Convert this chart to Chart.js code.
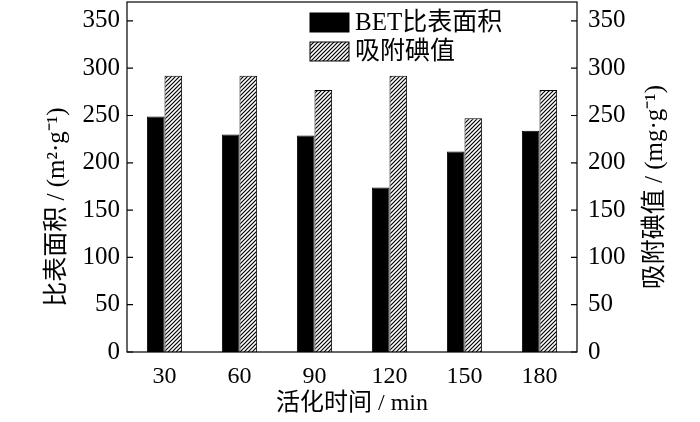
<!DOCTYPE html>
<html>
<head>
<meta charset="utf-8">
<script src="https://cdn.jsdelivr.net/npm/chart.js@4.4.1/dist/chart.umd.min.js"></script>
<style>
  body { margin: 0; background: #fff; }
  #wrap { width: 700px; height: 422px; }
</style>
</head>
<body>
<div id="wrap"><canvas id="myChart"></canvas></div>
<script>
// 数据
const categories = ["30", "60", "90", "120", "150", "180"]
const betArea = [249, 230, 229, 174, 212, 234]
const iodineValue = [292, 292, 277, 292, 247, 277]
const yTicks = [0, 50, 100, 150, 200, 250, 300, 350]

const FONT = '"Liberation Serif", "Times New Roman", "Noto Sans CJK SC", serif'

// 斜线填充
function hatch() {
    const c = document.createElement("canvas")
    c.width = 4
    c.height = 4
    const g = c.getContext("2d")
    g.fillStyle = "#fff"
    g.fillRect(0, 0, 4, 4)
    g.strokeStyle = "#000"
    g.lineWidth = 1.2
    g.beginPath()
    g.moveTo(-1, 5); g.lineTo(5, -1)
    g.moveTo(-1, 1); g.lineTo(1, -1)
    g.moveTo(3, 5); g.lineTo(5, 3)
    g.stroke()
    return g.createPattern(c, "repeat")
}

function fixY(s, w) {
    s.width = w
    s.paddingTop = 0
    s.paddingBottom = 0
}

const extras = {
    id: "extras",
    afterDraw(chart) {
        const ctx = chart.ctx
        const a = chart.chartArea
        ctx.save()
        ctx.strokeStyle = "#000"
        ctx.lineWidth = 1.2
        ctx.strokeRect(a.left, a.top, a.right - a.left, a.bottom - a.top)

        // 向内的刻度
        ctx.beginPath()
        for (const v of yTicks) {
            const yl = chart.scales.y.getPixelForValue(v)
            ctx.moveTo(a.left, yl); ctx.lineTo(a.left + 6, yl)
            const yr = chart.scales.y1.getPixelForValue(v)
            ctx.moveTo(a.right, yr); ctx.lineTo(a.right - 6, yr)
        }
        ctx.stroke()

        // 坐标轴标题
        ctx.fillStyle = "#000"
        ctx.font = "24px " + FONT
        ctx.textAlign = "center"
        ctx.textBaseline = "middle"
        ctx.fillText("活化时间 / min", (a.left + a.right) / 2, 404)

        ctx.font = "25px " + FONT
        ctx.save()
        ctx.translate(57, 207)
        ctx.rotate(-Math.PI / 2)
        ctx.fillText("比表面积 / (m²·g⁻¹)", 0, 0)
        ctx.restore()

        ctx.save()
        ctx.translate(655, 187)
        ctx.rotate(-Math.PI / 2)
        ctx.fillText("吸附碘值 / (mg·g⁻¹)", 0, 0)
        ctx.restore()

        // 图例
        ctx.font = "25px " + FONT
        ctx.textAlign = "left"
        chart.data.datasets.forEach((ds, i) => {
            const y = 13 + i * 29
            ctx.fillStyle = ds.backgroundColor
            ctx.fillRect(310, y, 39, 19)
            ctx.lineWidth = 1
            ctx.strokeRect(310, y, 39, 19)
            ctx.fillStyle = "#000"
            ctx.fillText(ds.label, 355, y + 10)
        })
        ctx.restore()
    }
}

function cargarDatos() {
    const grafica = document.getElementById("myChart").getContext("2d")
    const pattern = hatch()

    new Chart(grafica, {
        type: "bar",
        data: {
            labels: categories,
            datasets: [
                {
                    label: "BET比表面积",
                    data: betArea,
                    yAxisID: "y",
                    backgroundColor: "#000",
                    borderColor: "#000",
                    borderWidth: 1
                },
                {
                    label: "吸附碘值",
                    data: iodineValue,
                    yAxisID: "y1",
                    backgroundColor: pattern,
                    borderColor: "#000",
                    borderWidth: 1
                }
            ]
        },
        options: {
            responsive: true,
            maintainAspectRatio: false,
            animation: false,
            layout: { padding: { top: 2, left: 0, right: 0, bottom: 0 } },
            datasets: {
                bar: { barPercentage: 1, categoryPercentage: 0.47 }
            },
            plugins: {
                legend: { display: false },
                tooltip: { enabled: false }
            },
            scales: {
                x: {
                    grid: { display: false, drawTicks: false },
                    border: { display: false },
                    ticks: { color: "#000", padding: 10, font: { family: FONT, size: 24 } },
                    afterFit(s) { s.height = 70; s.paddingLeft = 0; s.paddingRight = 0 }
                },
                y: {
                    position: "left",
                    min: 0,
                    max: 370,
                    grid: { display: false, drawTicks: false },
                    border: { display: false },
                    ticks: { stepSize: 50, color: "#000", padding: 7, font: { family: FONT, size: 25 } },
                    afterBuildTicks(s) { s.ticks = yTicks.map(v => ({ value: v })) },
                    afterFit(s) { fixY(s, 127) }
                },
                y1: {
                    position: "right",
                    min: 0,
                    max: 370,
                    grid: { display: false, drawTicks: false },
                    border: { display: false },
                    ticks: { stepSize: 50, color: "#000", padding: 11, font: { family: FONT, size: 25 } },
                    afterBuildTicks(s) { s.ticks = yTicks.map(v => ({ value: v })) },
                    afterFit(s) { fixY(s, 123) }
                }
            }
        },
        plugins: [extras]
    })
}

cargarDatos()
</script>
</body>
</html>
